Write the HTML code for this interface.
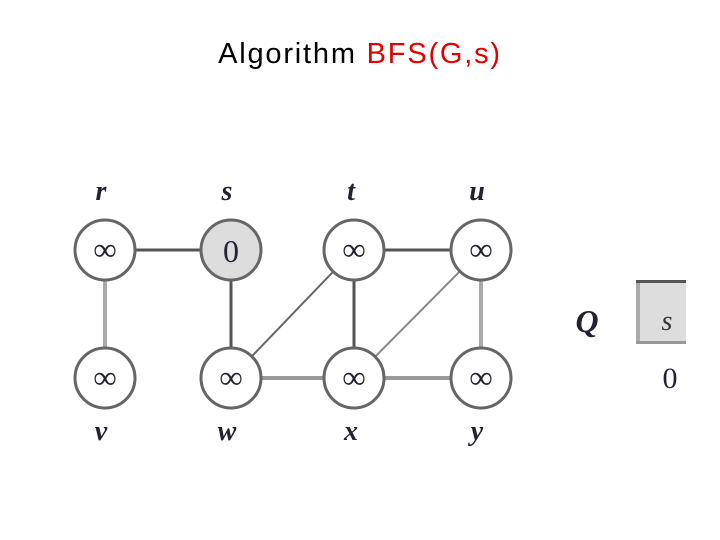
<!DOCTYPE html>
<html><head><style>
body{margin:0;width:720px;height:540px;background:#fff;overflow:hidden;position:relative;font-family:"Liberation Sans",sans-serif}
.t{position:absolute;top:38px;left:0;width:720px;text-align:center;font-size:29px;letter-spacing:1.8px}
</style></head><body>
<div class="t">Algorithm <span style="color:#e00000">BFS(G,s)</span></div>
<svg width="720" height="540" style="position:absolute;left:0;top:0" font-family="Liberation Serif" font-style="italic">
<g stroke-width="3">
<line x1="105" y1="250" x2="231" y2="250" stroke="#555"/>
<line x1="105" y1="250" x2="105" y2="378" stroke="#aaa" stroke-width="4"/>
<line x1="231" y1="250" x2="231" y2="378" stroke="#555"/>
<line x1="354" y1="250" x2="481" y2="250" stroke="#555"/>
<line x1="354" y1="250" x2="231" y2="378" stroke="#666" stroke-width="2"/>
<line x1="354" y1="250" x2="354" y2="378" stroke="#555"/>
<line x1="481" y1="250" x2="354" y2="378" stroke="#888" stroke-width="2"/>
<line x1="481" y1="250" x2="481" y2="378" stroke="#aaa" stroke-width="4"/>
<line x1="231" y1="378" x2="481" y2="378" stroke="#999" stroke-width="4"/>
</g>
<g stroke="#666" stroke-width="3" fill="#fff">
<circle cx="105" cy="250" r="30"/><circle cx="231" cy="250" r="30" fill="#ddd"/>
<circle cx="354" cy="250" r="30"/><circle cx="481" cy="250" r="30"/>
<circle cx="105" cy="378" r="30"/><circle cx="231" cy="378" r="30"/>
<circle cx="354" cy="378" r="30"/><circle cx="481" cy="378" r="30"/>
</g>
<g font-size="32" fill="#223" text-anchor="middle" font-style="normal" font-weight="bold">
<text x="105" y="260">∞</text><text x="231" y="262" font-size="32" font-weight="normal">0</text>
<text x="354" y="260">∞</text><text x="481" y="260">∞</text>
<text x="105" y="388">∞</text><text x="231" y="388">∞</text>
<text x="354" y="388">∞</text><text x="481" y="388">∞</text>
</g>
<g font-size="28" fill="#223" text-anchor="middle" font-weight="bold">
<text x="101" y="200">r</text><text x="227" y="200">s</text><text x="351" y="200">t</text><text x="477" y="200">u</text>
<text x="101" y="440">v</text><text x="227" y="440">w</text><text x="351" y="440">x</text><text x="477" y="440">y</text>
<text x="587" y="332" font-size="32">Q</text>
</g>
<rect x="636" y="281" width="50" height="63" fill="#ddd" stroke="none"/>
<rect x="636" y="281" width="4" height="63" fill="#aaa"/>
<rect x="636" y="280" width="50" height="3" fill="#555"/>
<rect x="636" y="341" width="50" height="3" fill="#999"/>
<text x="667" y="330" font-size="28" fill="#333" text-anchor="middle">s</text>
<text x="670" y="388" font-size="30" fill="#223" text-anchor="middle" font-style="normal">0</text>
</svg>
</body></html>
